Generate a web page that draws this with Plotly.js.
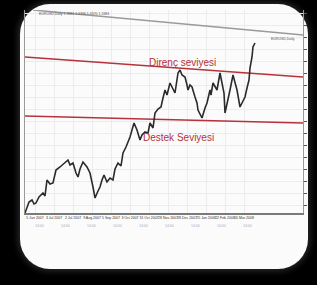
<!DOCTYPE html>
<html><head><meta charset="utf-8">
<script src="https://cdn.plot.ly/plotly-3.0.1.min.js"></script>
<style>
html,body{margin:0;padding:0;background:#000;width:317px;height:285px;overflow:hidden}
#card{position:absolute;left:20px;top:4px;width:288px;height:265px;background:#fbfbfb;border-radius:30px;box-shadow:0 0 6px 2px #2a2a2a}
#plot{position:absolute;left:0;top:0;width:317px;height:285px}
</style></head>
<body><div id="card"></div><div id="plot"></div>
<script>
// Price path (day index, price)
const days = [0,2,4,7,9,11,14,18,20,22,25,28,31,35,38,40,43,45,48,51,53,55,58,62,65,68,70,73,75,77,79,82,85,88,90,93,96,98,101,105,107,109,112,115,117,120,123,125,128,130,133,136,138,140,142,145,147,150,153,155,157,160,162,163,165,167,170,172,173,175,177,180,182,185,186,188,190,192,195,197,199,200,203,205,208,210,212,215,217,220,222,224,225,227,228,230];
const price = [1.300,1.305,1.311,1.313,1.309,1.310,1.316,1.320,1.317,1.333,1.329,1.330,1.343,1.346,1.349,1.350,1.353,1.348,1.350,1.340,1.336,1.344,1.351,1.346,1.340,1.326,1.315,1.322,1.326,1.333,1.338,1.331,1.335,1.333,1.344,1.350,1.347,1.360,1.366,1.376,1.384,1.390,1.383,1.373,1.378,1.381,1.380,1.390,1.385,1.400,1.404,1.406,1.415,1.423,1.418,1.430,1.426,1.420,1.440,1.443,1.438,1.436,1.428,1.423,1.428,1.426,1.416,1.410,1.403,1.398,1.395,1.405,1.410,1.423,1.418,1.430,1.426,1.423,1.440,1.430,1.420,1.400,1.416,1.423,1.438,1.430,1.423,1.406,1.410,1.416,1.425,1.433,1.445,1.456,1.466,1.470];
// Resistance and support levels (start, end of drawn line)
const levelDays = [0,278];
const resistance = [1.456,1.436];
const support = [1.397,1.390];
// Chart window top edge (photographed, skewed)
const frameDays = [8,278];
const frameTop = [1.503,1.478];
// Date tick labels
const tickDays = [10,29,48,67,86,105,124,143,162,181,200,219];
const tickText = ["5 Jun 2007","3 Jul 2007","2 Jul 2007","9 Aug 2007","5 Sep 2007","3 Oct 2007","31 Oct 2007","28 Nov 2007","28 Dec 2007","25 Jan 2008","22 Feb 2008","20 Mar 2008"];
// Second (faint) row of time labels
const row2Days = [14,40,66,92,118,144,170,196,222];
const row2Text = ["14:00","14:00","14:00","14:00","14:00","14:00","14:00","14:00","14:00"];

const red = '#b5323c';
const traces = [
  {x:frameDays,y:frameTop,mode:'lines',line:{color:'#9a9a9a',width:1.5},hoverinfo:'skip'},
  {x:levelDays,y:resistance,mode:'lines',line:{color:red,width:1.5},hoverinfo:'skip'},
  {x:levelDays,y:support,mode:'lines',line:{color:red,width:1.5},hoverinfo:'skip'},
  {x:days,y:price,mode:'lines',line:{color:'#2b2b2b',width:1.6},hoverinfo:'skip'}
];
const annotations = [
  {x:157,y:1.451,xref:'x',yref:'y',text:'Direnç seviyesi',showarrow:false,
    font:{size:10,color:red,family:'Liberation Sans Narrow, sans-serif'}},
  {x:153,y:1.376,xref:'x',yref:'y',text:'Destek Seviyesi',showarrow:false,
    font:{size:10,color:red,family:'Liberation Sans Narrow, sans-serif'}},
  {x:12,y:1.499,xref:'x',yref:'y',xanchor:'left',text:'EURUSD,Daily 1.3381 1.3396 1.3370 1.3384',showarrow:false,
    font:{size:3.5,color:'#555'}},
  {x:272,y:1.474,xref:'x',yref:'y',xanchor:'right',text:'EURUSD,Daily',showarrow:false,
    font:{size:3.5,color:'#555'}}
];
row2Days.forEach((d,i)=>annotations.push({x:d,y:-0.085,xref:'x',yref:'paper',text:row2Text[i],
  showarrow:false,font:{size:3.5,color:'#aaa'}}));
const layout = {
  width:317,height:285,
  margin:{l:25,r:14,t:10,b:72},
  paper_bgcolor:'rgba(0,0,0,0)',plot_bgcolor:'rgba(0,0,0,0)',
  showlegend:false,
  font:{family:'Liberation Sans Narrow, Arial Narrow, sans-serif'},
  xaxis:{range:[0,278],showgrid:true,gridcolor:'#ececec',gridwidth:1,
    tickvals:tickDays,ticktext:tickText,tickfont:{size:3.5,color:'#333'},tickangle:0,
    showline:true,linecolor:'#7a7a7a',linewidth:2,zeroline:false,ticks:''},
  yaxis:{range:[1.300,1.503],side:'right',showgrid:true,gridcolor:'#ececec',dtick:0.012,
    showticklabels:false,ticks:'outside',ticklen:3,tickcolor:'#555',
    showline:true,linecolor:'#9a9a9a',linewidth:1,mirror:true,zeroline:false},
  annotations:annotations
};
Plotly.newPlot('plot',traces,layout,{displayModeBar:false,staticPlot:true});
</script></body></html>
